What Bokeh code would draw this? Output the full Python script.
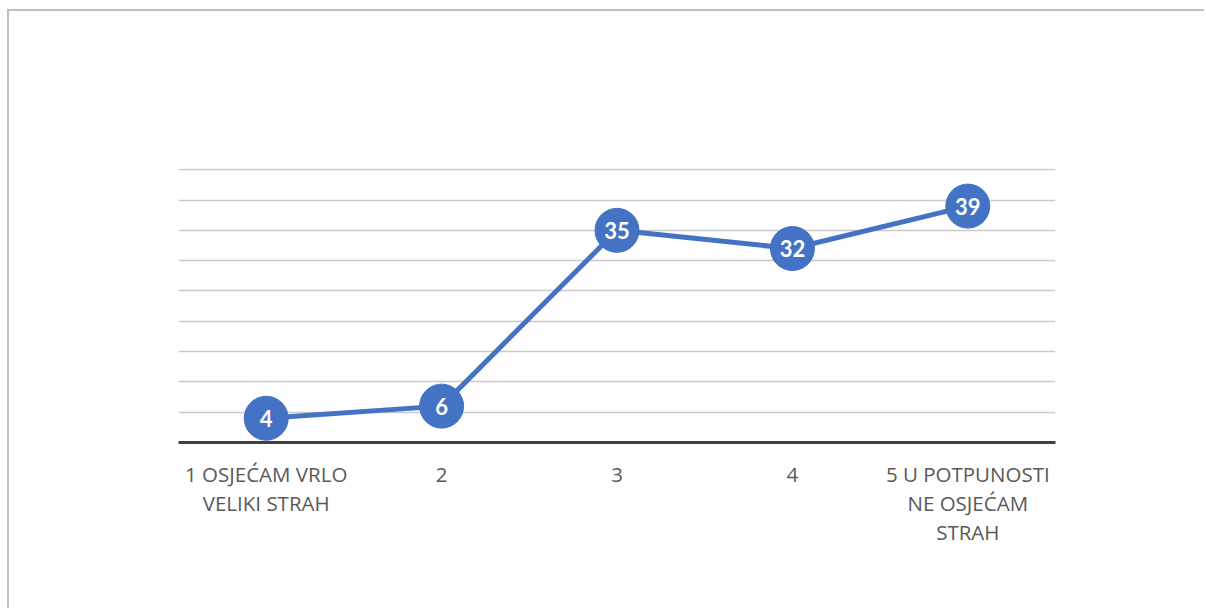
from bokeh.plotting import figure
from bokeh.models import ColumnDataSource, FactorRange, Range1d, SingleIntervalTicker
from bokeh.core.properties import value
from bokeh.embed import file_html
from bokeh.resources import INLINE

categories = ["1 OSJEĆAM VRLO\nVELIKI STRAH", "2", "3", "4", "5 U POTPUNOSTI\nNE OSJEĆAM\nSTRAH"]
values = [4, 6, 35, 32, 39]
value_labels = [str(v) for v in values]

BLUE = "#4472C4"

src = ColumnDataSource(dict(x=categories, y=values, lab=value_labels))

p = figure(width=1197, height=599, output_backend="svg", toolbar_location=None,
           x_range=FactorRange(*categories, range_padding=0),
           y_range=Range1d(0, 45.2), y_axis_location=None,
           min_border_left=169, min_border_right=151, min_border_top=157, min_border_bottom=168)
p.outline_line_color = None
p.styles = {"border-top": "2px solid #bfbfbf", "border-left": "2px solid #bfbfbf",
            "margin-left": "7px", "margin-top": "9px"}

p.xgrid.grid_line_color = None
p.ygrid.grid_line_color = "#c9c9c9"
p.ygrid.grid_line_width = 1.5
p.ygrid.ticker = SingleIntervalTicker(interval=5)

ax = p.xaxis[0]
ax.axis_line_color = "#404040"
ax.axis_line_width = 3
ax.major_tick_line_color = None
ax.minor_tick_line_color = None
ax.major_label_text_font = "Open Sans"
ax.major_label_text_font_size = "20.5px"
ax.major_label_text_color = "#595959"
ax.major_label_text_line_height = 1.05
ax.major_label_standoff = 11

p.line("x", "y", source=src, line_color=BLUE, line_width=5)
p.scatter("x", "y", source=src, size=44, fill_color=BLUE, line_color=BLUE)
p.text("x", "y", text="lab", source=src, text_color="white", text_font=value("Lato"),
       text_font_style="bold", text_font_size="22px", text_align="center", text_baseline="middle")

open("out.html", "w").write(file_html(p, INLINE))
